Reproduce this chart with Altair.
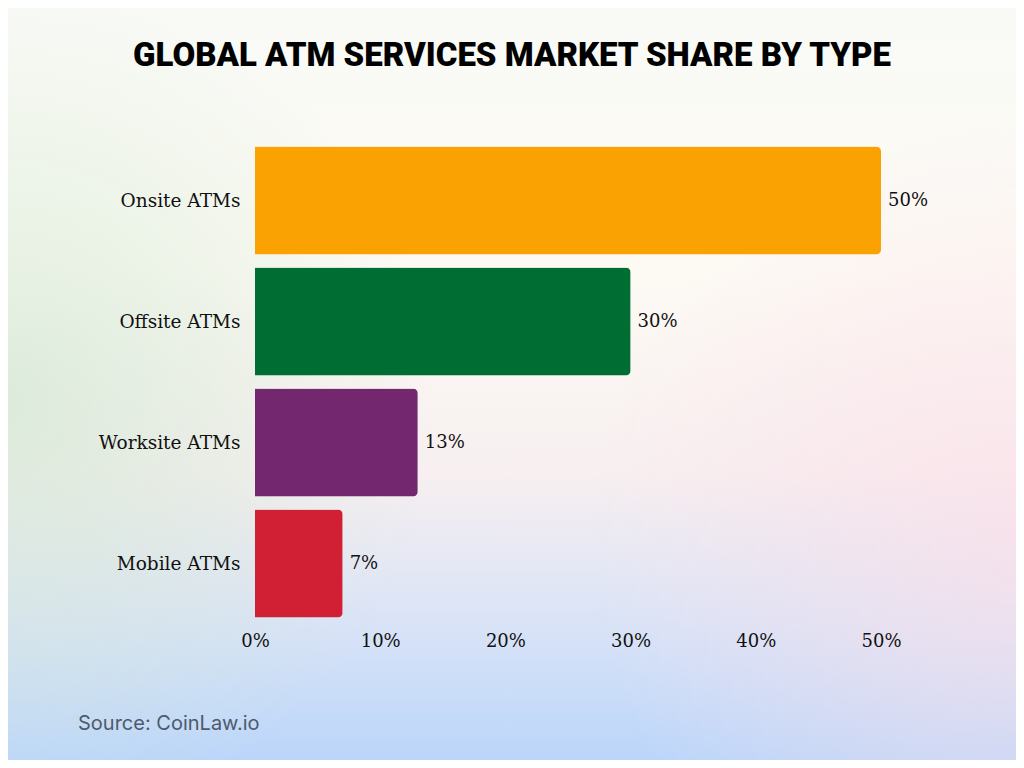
import altair as alt
import pandas as pd

categories = ["Onsite ATMs", "Offsite ATMs", "Worksite ATMs", "Mobile ATMs"]
shares = [50, 30, 13, 7]
bar_colors = ["#F9A202", "#006E33", "#72276F", "#D11F33"]
tick_values = [0, 10, 20, 30, 40, 50]
title_text = "GLOBAL ATM SERVICES MARKET SHARE BY TYPE"
source_text = "Source: CoinLaw.io"

W, H = 626, 484
PL, PT, PR, PB = 247, 132, 135, 136

df = pd.DataFrame({"type": categories, "share": shares})
one = pd.DataFrame({"a": [0]})

serif = "DejaVu Serif"

bg_linear = alt.LinearGradient(
    gradient="linear",
    stops=[
        alt.GradientStop(color="#F9FAF6", offset=0),
        alt.GradientStop(color="#FDFAF4", offset=0.35),
        alt.GradientStop(color="#F7EFF0", offset=0.62),
        alt.GradientStop(color="#D9E3F7", offset=0.82),
        alt.GradientStop(color="#BBD6FA", offset=1),
    ],
    x1=0, y1=0, x2=0, y2=1,
)
bg_green = alt.RadialGradient(
    gradient="radial",
    stops=[
        alt.GradientStop(color="rgba(208,232,210,0.7)", offset=0),
        alt.GradientStop(color="rgba(208,232,210,0)", offset=1),
    ],
    x1=0, y1=0.52, r1=0, x2=0, y2=0.52, r2=0.42,
)
bg_pink = alt.RadialGradient(
    gradient="radial",
    stops=[
        alt.GradientStop(color="rgba(252,222,232,0.65)", offset=0),
        alt.GradientStop(color="rgba(252,222,232,0)", offset=1),
    ],
    x1=1, y1=0.66, r1=0, x2=1, y2=0.66, r2=0.42,
)


def bg(fill):
    return alt.Chart(one).mark_rect(fill=fill, strokeWidth=0).encode(
        x=alt.value(-PL), x2=alt.value(W + PR), y=alt.value(-PT), y2=alt.value(H + PB)
    )


base = alt.Chart(df).encode(
    y=alt.Y(
        "type:N",
        sort=categories,
        scale=alt.Scale(paddingInner=0.107, paddingOuter=0.0535),
        axis=alt.Axis(
            title=None, domain=False, ticks=False, labelPadding=15, zindex=2,
            labelFont=serif, labelFontSize=18.5, labelColor="#111111",
        ),
    ),
    x=alt.X(
        "share:Q",
        scale=alt.Scale(domain=[0, 50], nice=False),
        axis=alt.Axis(
            title=None, domain=False, ticks=False, grid=False, values=tick_values,
            labelExpr="datum.value + '%'", labelPadding=8, zindex=2, labelFlush=False,
            labelFont=serif, labelFontSize=18, labelColor="#111111",
        ),
    ),
)

bars = base.mark_bar(cornerRadiusEnd=5).encode(
    color=alt.Color("type:N", scale=alt.Scale(domain=categories, range=bar_colors), legend=None)
)

labels = base.transform_calculate(lab="datum.share + '%'").mark_text(
    align="left", baseline="middle", dx=7, font=serif, fontSize=18, color="#111111"
).encode(text="lab:N")

title = alt.Chart(one).mark_text(
    text=title_text, font="Roboto",
    fontWeight=900, fontSize=33, align="center", baseline="middle", color="#000000",
).encode(x=alt.value(257), y=alt.value(-84))

source = alt.Chart(one).mark_text(
    text=source_text, font="Inter", fontSize=20, align="left", baseline="middle", color="#4D5A6C",
).encode(x=alt.value(-177), y=alt.value(584))

chart = alt.layer(
    bg(bg_linear), bg(bg_green), bg(bg_pink), bars, labels, title, source
).properties(
    width=W, height=H,
    autosize=alt.AutoSizeParams(type="none"),
    padding={"left": PL, "top": PT, "right": PR, "bottom": PB},
).configure_view(stroke=None)

chart.save("out.html", embed_options={"renderer": "svg", "actions": False})
